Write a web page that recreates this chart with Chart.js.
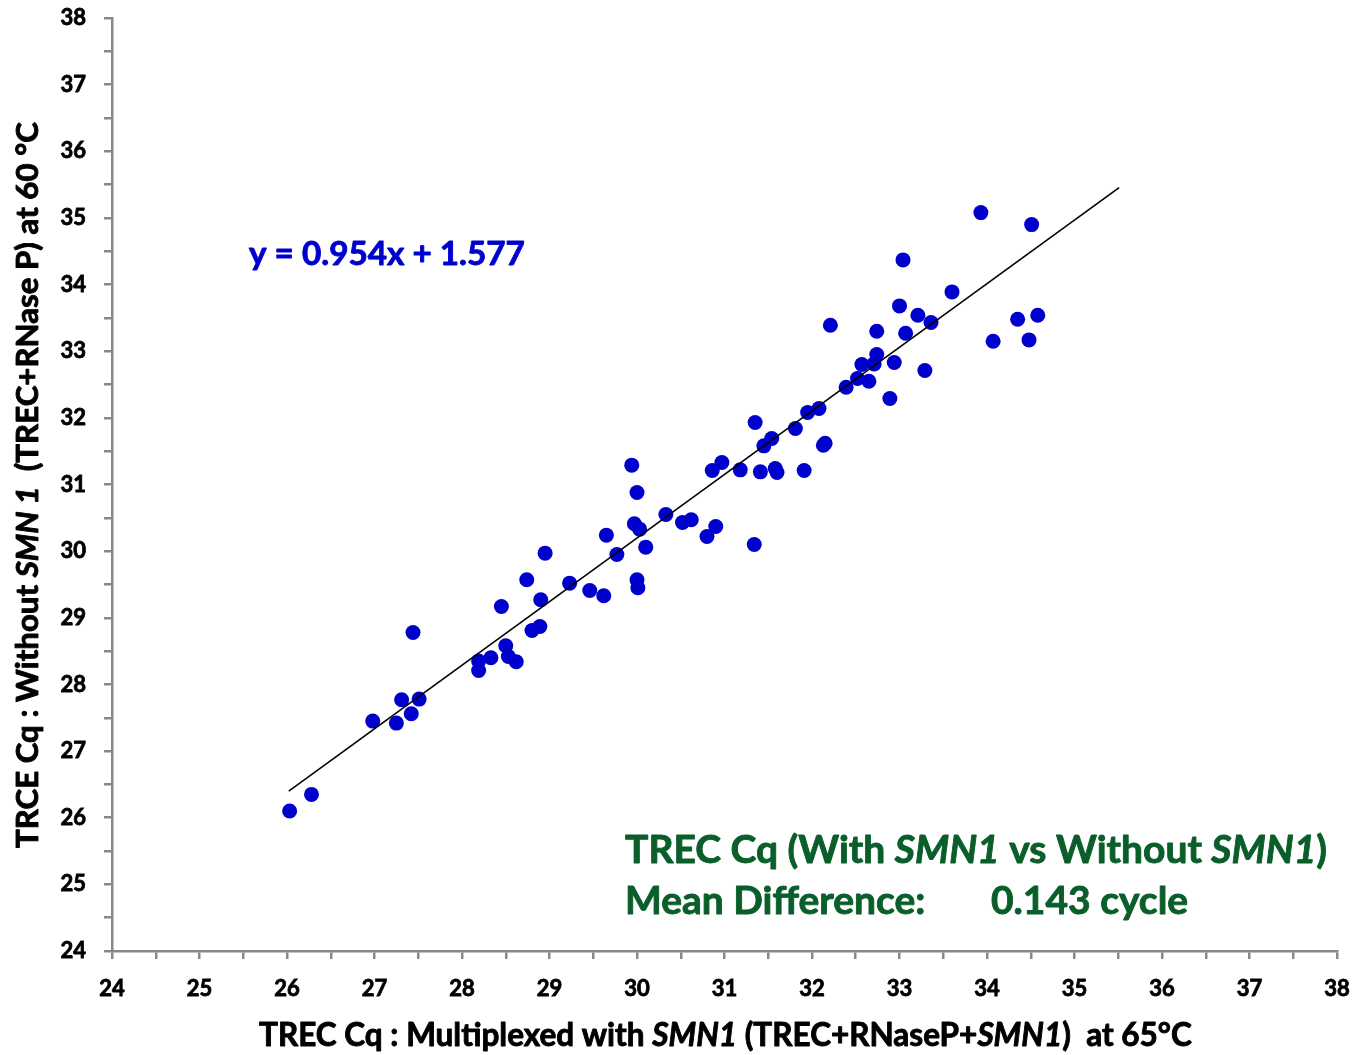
<!DOCTYPE html>
<html>
<head>
<meta charset="utf-8">
<script src="https://cdn.jsdelivr.net/npm/chart.js@4/dist/chart.umd.min.js"></script>
<style>
html,body{margin:0;padding:0;background:#fff;}
#wrap{width:1358px;height:1055px;}
</style>
</head>
<body>
<div id="wrap"><canvas id="c" width="1358" height="1055"></canvas></div>
<script>
// ---- data ----
const xValues = [26.03,26.28,26.98,27.25,27.31,27.42,27.51,27.44,28.19,28.19,28.33,28.50,28.53,28.62,28.45,28.80,28.89,28.90,28.74,28.95,
29.23,29.46,29.62,29.65,29.77,29.94,30.00,29.97,30.03,30.10,30.00,30.01,30.33,30.52,30.62,30.80,30.90,30.86,30.97,31.18,
31.34,31.35,31.41,31.45,31.54,31.58,31.60,31.81,31.91,31.95,32.08,32.13,32.15,32.21,32.39,32.52,32.57,32.65,32.71,32.74,
32.74,32.89,32.94,33.00,33.04,33.07,33.21,33.29,33.36,33.60,33.93,34.07,34.35,34.48,34.51,34.58];
const yValues = [26.10,26.35,27.45,27.42,27.77,27.56,27.78,28.78,28.21,28.35,28.40,28.58,28.42,28.34,29.17,28.81,28.87,29.27,29.57,29.97,
29.52,29.41,29.33,30.24,29.95,31.29,30.88,30.41,30.33,30.06,29.57,29.45,30.55,30.43,30.47,30.22,30.37,31.21,31.33,31.22,
30.10,31.93,31.19,31.58,31.69,31.24,31.18,31.84,31.21,32.08,32.14,31.59,31.62,33.39,32.46,32.59,32.80,32.55,32.81,32.95,
33.30,32.29,32.83,33.68,34.37,33.27,33.54,32.71,33.43,33.89,35.08,33.15,33.48,33.17,34.90,33.54];
const trendSlope = 0.954;
const trendIntercept = 1.577;
const trendRangeX = [26.02, 35.51];
const axisRange = [24, 38];
const meanDifference = "0.143 cycle";

const points = xValues.map((x, i) => ({x: x, y: yValues[i]}));
const trendPoints = trendRangeX.map(x => ({x: x, y: trendSlope * x + trendIntercept}));

const FONT = "Lato, 'Open Sans', sans-serif";
const BLUE = '#0000CC';
const GREEN = '#0a5e2a';
const W = 'bold';

function fitSize(ctx, segs, target, weight) {
  let w = 0;
  segs.forEach(s => { ctx.font = (s.it ? 'italic ' : '') + weight + ' 100px ' + FONT; w += ctx.measureText(s.t).width; });
  return 100 * target / w;
}
function drawSeg(ctx, text, x, y, color) {
  ctx.fillStyle = color;
  ctx.strokeStyle = color;
  ctx.lineWidth = 0.9;
  ctx.lineJoin = 'round';
  ctx.fillText(text, x, y);
  ctx.strokeText(text, x, y);
}
function drawRich(ctx, segs, x, y, target, color) {
  const size = fitSize(ctx, segs, target, W);
  ctx.textBaseline = 'middle';
  ctx.textAlign = 'left';
  let cx = x;
  segs.forEach(s => {
    ctx.font = (s.it ? 'italic ' : '') + W + ' ' + size + 'px ' + FONT;
    drawSeg(ctx, s.t, cx, y, color);
    cx += ctx.measureText(s.t).width;
  });
}

const textPlugin = {
  id: 'texts',
  afterDraw(chart) {
    const ctx = chart.ctx;
    ctx.save();
    // equation
    drawRich(ctx, [{t: 'y = ' + trendSlope + 'x + ' + trendIntercept}], 249, 254, 276, BLUE);
    // annotation
    const line1 = [{t: 'TREC Cq (With '}, {t: 'SMN1', it: true}, {t: ' vs Without '}, {t: 'SMN1', it: true}, {t: ')'}];
    drawRich(ctx, line1, 625, 850, 702, GREEN);
    const s2 = fitSize(ctx, line1, 702, W);
    ctx.font = W + ' ' + s2 + 'px ' + FONT;
    drawSeg(ctx, 'Mean Difference:', 625, 901, GREEN);
    drawSeg(ctx, meanDifference, 991, 901, GREEN);
    // x title
    drawRich(ctx, [{t: 'TREC Cq : Multiplexed with '}, {t: 'SMN1', it: true}, {t: ' (TREC+RNaseP+'}, {t: 'SMN1', it: true}, {t: ')  at 65°C'}], 259, 1036, 933, '#000');
    // y title
    ctx.translate(28, 848);
    ctx.rotate(-Math.PI / 2);
    drawRich(ctx, [{t: 'TRCE Cq : Without '}, {t: 'SMN 1', it: true}, {t: '  (TREC+RNase P) at 60 °C'}], 0, 0, 726, '#000');
    ctx.restore();
  }
};

const tickCb = v => (Math.abs(v - Math.round(v)) < 1e-6 ? String(Math.round(v)) : '');

new Chart(document.getElementById('c'), {
  data: {
    datasets: [
      {type: 'scatter', data: points, backgroundColor: BLUE, borderColor: BLUE, pointRadius: 7.5, pointHoverRadius: 7.5, borderWidth: 0, order: 1},
      {type: 'line', data: trendPoints, borderColor: '#000', borderWidth: 1.6, pointRadius: 0, fill: false, order: 0}
    ]
  },
  options: {
    responsive: false,
    animation: false,
    layout: {padding: {top: 18, right: 21, left: 0, bottom: 0}},
    plugins: {legend: {display: false}, tooltip: {enabled: false}},
    scales: {
      x: {
        type: 'linear', min: axisRange[0], max: axisRange[1],
        afterFit(s) { s.height = 104; s.paddingLeft = 0; s.paddingRight = 0; },
        border: {color: '#888', width: 2.5},
        grid: {drawOnChartArea: false, tickLength: 8, color: '#888', lineWidth: 2.5},
        ticks: {stepSize: 0.5, autoSkip: false, maxRotation: 0, callback: tickCb, color: '#000', padding: 17,
          textStrokeColor: '#000', textStrokeWidth: 0.8,
          font: {family: FONT, weight: 'bold', size: 22}}
      },
      y: {
        type: 'linear', min: axisRange[0], max: axisRange[1],
        afterFit(s) { s.width = 112; s.paddingTop = 0; s.paddingBottom = 0; },
        border: {color: '#888', width: 2.5},
        grid: {drawOnChartArea: false, tickLength: 8, color: '#888', lineWidth: 2.5},
        ticks: {stepSize: 0.5, autoSkip: false, callback: tickCb, color: '#000', padding: 18,
          textStrokeColor: '#000', textStrokeWidth: 0.8,
          font: {family: FONT, weight: 'bold', size: 22}}
      }
    }
  },
  plugins: [textPlugin]
});
</script>
</body>
</html>
